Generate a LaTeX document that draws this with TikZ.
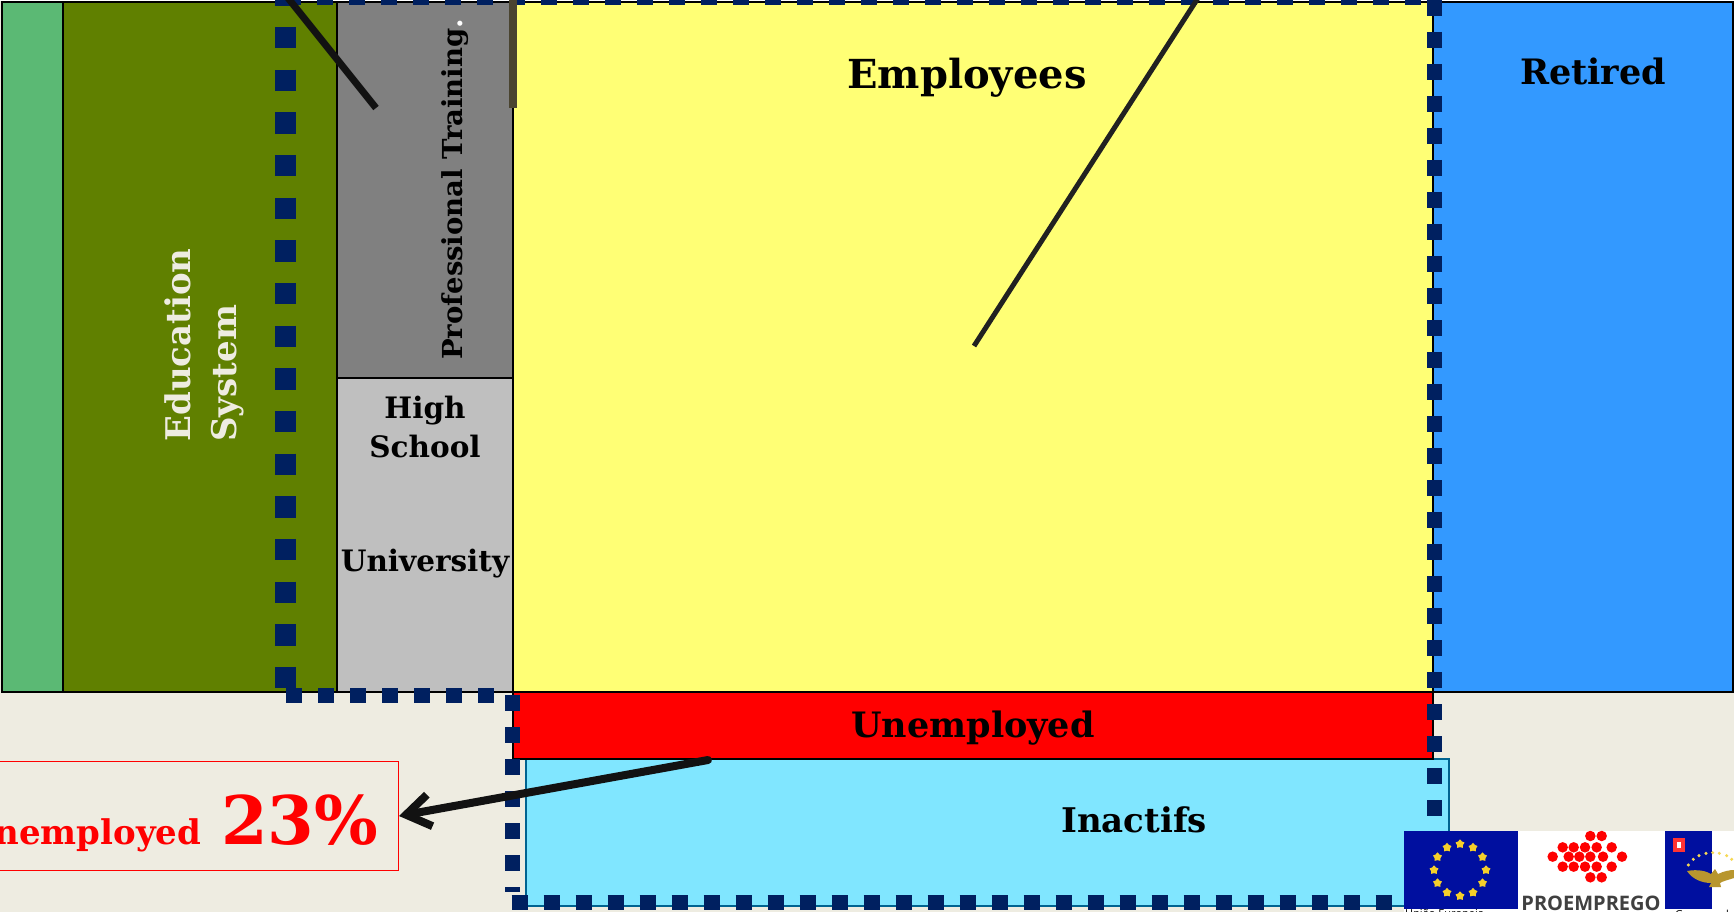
\documentclass[tikz,border=0pt]{standalone}
\usepackage{fontspec}
\setmainfont{DejaVu Serif}
\newfontfamily\logofont{Open Sans}
\usetikzlibrary{arrows.meta,shapes.geometric}

\definecolor{pagebg}{HTML}{EEECE1}
\definecolor{navydash}{HTML}{002060}
\definecolor{schoolgreen}{HTML}{5BB974}
\definecolor{eduolive}{HTML}{608000}
\definecolor{workyellow}{HTML}{FFFF75}
\definecolor{retiredblue}{HTML}{3399FF}
\definecolor{inactcyan}{HTML}{80E6FF}
\definecolor{flagblue}{HTML}{000F9F}
\definecolor{stargold}{HTML}{F5CF2A}
\definecolor{birdgold}{HTML}{B8962E}
\definecolor{barbrown}{HTML}{4A4430}

\tikzset{
  region/.style={draw=black,line width=1.5pt},
  boxlabel/.style={font=\bfseries\fontsize{#1}{#1}\selectfont,text=black,inner sep=0pt,align=center},
  navyline/.style={draw=navydash,line width=#1,dash pattern=on 16pt off 16pt},
  hexdot/.style={fill=red,draw=none,circle,minimum size=10.5pt,inner sep=0pt},
  logocaption/.style={font=\logofont\fontsize{11}{11}\selectfont,text=black,inner sep=0pt,anchor=north west},
}

\begin{document}
\begin{tikzpicture}[x=1pt,y=-1pt]
\useasboundingbox (0,0) rectangle (1734,912);
\clip (0,0) rectangle (1734,912);
\fill[color=pagebg] (0,0) rectangle (1734,912);
\fill[color=white] (0,0) rectangle (1734,1);

% the bands
\draw[region,fill=schoolgreen] (2,2) rectangle (63,692);
\draw[region,fill=eduolive] (63,2) rectangle (337,692);
\draw[region,fill=gray] (337,2) rectangle (513,378);
\draw[region,fill=lightgray] (337,378) rectangle (513,692);
\draw[region,fill=workyellow] (513,2) rectangle (1433,692);
\draw[region,fill=retiredblue] (1433,2) rectangle (1733,692);
\draw[draw=navydash!70!cyan,line width=1.5pt,fill=inactcyan] (526,759) rectangle (1449,906);
\node[region,fill=red,anchor=north west,minimum width=920pt,minimum height=67pt,inner sep=0pt,outer sep=0pt,
  boxlabel=35] (unempbar) at (513,692) {\smash{\raisebox{-12pt}{Unemployed}}};

\node[boxlabel=40] (employees) at (967,78) {Employees};
\node[boxlabel=35] (retired) at (1593,71) {Retired};
\node[boxlabel=34] (inactifs) at (1134,820) {Inactifs};
\node[boxlabel=34,text=pagebg,rotate=90,align=left] (education) at (204,345) {Education\\[12pt]System};
\node[boxlabel=27.5,rotate=90,anchor=west] (training) at (455,360) {Professional Training\textcolor{white}{.}};
\node[boxlabel=29.5] (highschool) at (425,427) {High\\[9pt]School};
\node[boxlabel=29.5] (university) at (425,564) {University};

% dashed outline
\draw[navyline=21.3pt,dash pattern=on 21.33pt off 21.33pt] (285.5,-15.67) -- (285.5,690);
\draw[navyline=15pt] (286,695) -- (494,695);
\draw[navyline=15pt] (512,695) -- (512,892);
\draw[navyline=15pt] (511.5,902) -- (1434,902);
\draw[navyline=15pt] (1434.5,0) -- (1434.5,900);
\draw[navyline=15pt] (284.7,-2) -- (1434,-2);

% strokes coming down from the top
\draw[color=black!93,line width=7pt] (288,-2) -- (376,108);
\draw[color=barbrown,line width=8pt] (513,0) -- (513,108);
\draw[color=black!87,line width=5pt] (1198,-2) -- (974,346);

\node[draw=red,line width=1.5pt,text=red,anchor=east,inner ysep=0pt,inner xsep=20pt,minimum height=109pt,
  font=\bfseries\fontsize{34}{34}\selectfont] (rate) at (399,816)
  {\smash{\raisebox{-28pt}{Unemployed\hspace{20pt}{\fontsize{67}{67}\selectfont 23\%}}}};
\coordinate (arrowstart) at (708,760);
\draw[-{Straight Barb[length=24pt,width=32pt]},color=black!93,line width=8pt,line cap=round] (arrowstart) -- (rate.east);

% logos
\fill[color=white] (1404,831) rectangle (1734,912);
\fill[color=flagblue] (1404,831) rectangle (1518,909);
\foreach \i in {0,...,11}
  \node[star,star points=5,fill=stargold,draw=none,minimum size=9.5pt,inner sep=0pt] (eustar\i) at ({1460+26*cos(30*\i)},{870+26*sin(30*\i)}) {};
\node[logocaption] (eucaption) at (1405,909.5) {União Europeia};

\foreach \x/\y [count=\n] in {631/288,665/288,
    548/322,581/322,615/322,650/322,695/322,
    518/350,566/350,598/350,631/350,669/350,726/350,
    548/380,581/380,615/380,650/380,695/380,
    631/412,665/412}
  \node[hexdot] (hex\n) at ({1380+\x/3},{740+\y/3}) {};
\node[font=\logofont\bfseries\fontsize{20}{20}\selectfont,text=black!75,inner sep=0pt] (proemprego) at (1591,903) {PROEMPREGO};

\fill[color=flagblue] (1665,831) rectangle (1712,909);
\fill[color=red!80!white] (1673,838) rectangle (1685,852);
\fill[color=white] (1677,842) rectangle (1681,848);
\foreach \x/\y in {925/375,940/358,957/347,978/340,998/338,1018/340,1040/347,1055/358}
  \fill[color=stargold!80!white] ({1380+\x/3},{740+\y/3}) circle (1.7);
\fill[color=birdgold] (1687,871) .. controls (1698,869) and (1706,871) .. (1711,874)
  -- (1715,869) -- (1718,874) .. controls (1724,871) and (1730,870) .. (1734,870) -- (1734,878)
  .. controls (1728,880) and (1723,881) .. (1720,883) -- (1721,887) -- (1709,887) -- (1711,883)
  .. controls (1702,883) and (1692,879) .. cycle;
\node[logocaption] (azcaption) at (1675,909.5) {Governo dos Açores};
\end{tikzpicture}
\end{document}
